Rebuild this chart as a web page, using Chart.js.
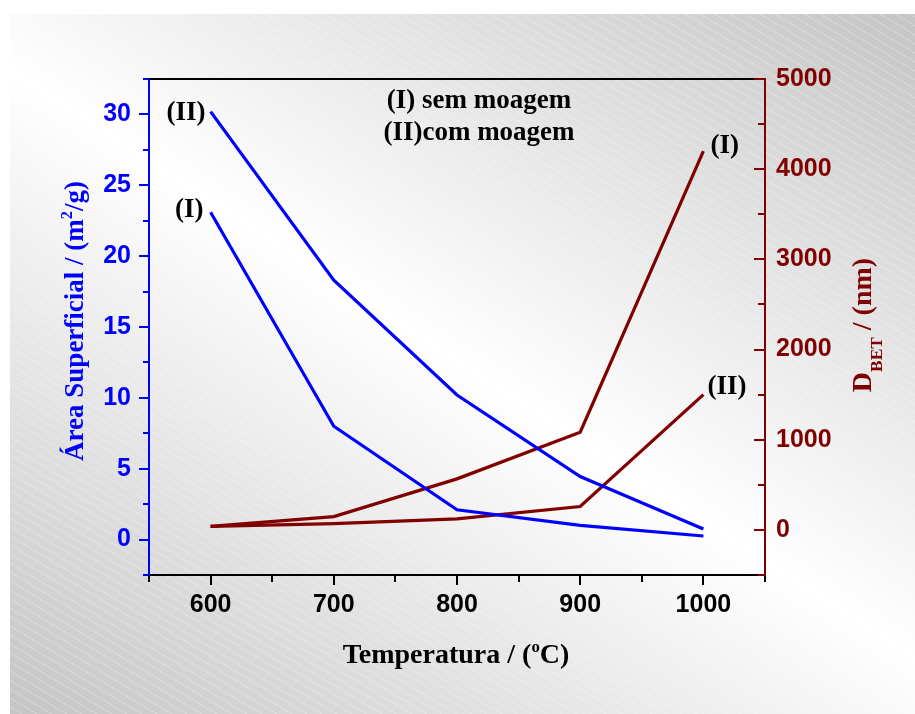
<!DOCTYPE html>
<html>
<head>
<meta charset="utf-8">
<script src="https://cdn.jsdelivr.net/npm/chart.js@4.4.1/dist/chart.umd.min.js"></script>
<style>
    html, body { margin: 0; padding: 0; background: #fff; }
    #wrap { width: 915px; height: 714px; }
</style>
</head>
<body>
<div id="wrap"><canvas id="areaGraph"></canvas></div>
<script>
// temperature of calcination (°C)
const temperatures = [600, 700, 800, 900, 1000];

// surface area (m2/g)
const areaSemMoagem = [23.1, 8.0, 2.1, 1.0, 0.25];
const areaComMoagem = [30.2, 18.3, 10.2, 4.45, 0.75];

// D_BET (nm)
const dbetSemMoagem = [40, 148, 566, 1084, 4200];
const dbetComMoagem = [40, 70, 122, 259, 1500];

const blue = '#0000ff';
const darkRed = '#800000';
const sansFont = "'Liberation Sans', Arial, sans-serif";
const serifFont = "'Liberation Serif', 'Times New Roman', serif";

function toPoints(values) {
    return temperatures.map((t, i) => ({ x: t, y: values[i] }));
}

// writes text pieces one after another, pieces may be raised or lowered
function drawRich(ctx, parts, x, y, size, color, align) {
    let total = 0;
    parts.forEach(p => {
        ctx.font = 'bold ' + (size * (p.s || 1)) + 'px ' + serifFont;
        p.w = ctx.measureText(p.t).width;
        total += p.w;
    });
    let cx = x;
    if (align === 'center') cx = x - total / 2;
    if (align === 'right') cx = x - total;
    ctx.fillStyle = color;
    ctx.textAlign = 'left';
    ctx.textBaseline = 'alphabetic';
    parts.forEach(p => {
        ctx.font = 'bold ' + (size * (p.s || 1)) + 'px ' + serifFont;
        ctx.fillText(p.t, cx, y + (p.dy || 0) * size);
        cx += p.w;
    });
}

const backgroundPlugin = {
    id: 'slideBackground',
    beforeDraw(chart) {
        const ctx = chart.ctx;
        const w = chart.width, h = chart.height;
        ctx.save();
        ctx.fillStyle = '#fff';
        ctx.fillRect(0, 0, w, h);

        const cx = 462, cy = 364, ux = 0.545, uy = -0.839, d = 545;
        const g = ctx.createLinearGradient(cx - ux * d, cy - uy * d, cx + ux * d, cy + uy * d);
        g.addColorStop(0, '#c4c4c4');
        g.addColorStop(0.5, '#ffffff');
        g.addColorStop(1, '#c4c4c4');
        ctx.fillStyle = g;
        ctx.fillRect(10, 14, w - 10, h - 14);

        // faint diagonal stripes
        ctx.beginPath();
        ctx.rect(10, 14, w - 10, h - 14);
        ctx.clip();
        ctx.strokeStyle = 'rgba(255,255,255,0.3)';
        ctx.lineWidth = 1;
        ctx.beginPath();
        for (let y0 = 14 - 0.6 * w; y0 < h; y0 += 9) {
            ctx.moveTo(10, y0);
            ctx.lineTo(w, y0 + 0.6 * (w - 10));
        }
        ctx.stroke();
        ctx.restore();
    }
};

// major and minor tick marks, drawn from the scales
function drawTicks(ctx, scale, majorEvery, majorLen, minorLen, side, color) {
    ctx.strokeStyle = color;
    ctx.lineWidth = 2;
    scale.ticks.forEach(t => {
        const v = t.value;
        const isMajor = Math.abs(v / majorEvery - Math.round(v / majorEvery)) < 1e-6;
        const len = isMajor ? majorLen : minorLen;
        const p = Math.round(scale.getPixelForValue(v));
        ctx.beginPath();
        if (side === 'bottom') {
            ctx.moveTo(p, scale.top);
            ctx.lineTo(p, scale.top + len);
        } else if (side === 'left') {
            ctx.moveTo(scale.right, p);
            ctx.lineTo(scale.right - len, p);
        } else {
            ctx.moveTo(scale.left, p);
            ctx.lineTo(scale.left - len, p);
        }
        ctx.stroke();
    });
}

const decorPlugin = {
    id: 'decor',
    afterDraw(chart) {
        const ctx = chart.ctx;
        const area = chart.chartArea;
        const xs = chart.scales.x, ys = chart.scales.y, ys1 = chart.scales.y1;
        ctx.save();

        // top frame
        ctx.strokeStyle = '#000';
        ctx.lineWidth = 2;
        ctx.beginPath();
        ctx.moveTo(area.left, area.top);
        ctx.lineTo(area.right, area.top);
        ctx.stroke();

        drawTicks(ctx, xs, 100, 10, 7, 'bottom', '#000');
        drawTicks(ctx, ys, 5, 10, 6, 'left', blue);
        drawTicks(ctx, ys1, 1000, 11, 7, 'right', darkRed);

        // series labels
        const px = v => xs.getPixelForValue(v);
        drawRich(ctx, [{ t: '(II)' }], px(600) - 5, ys.getPixelForValue(areaComMoagem[0]) + 8, 27, '#000', 'right');
        drawRich(ctx, [{ t: '(I)' }], px(600) - 7, ys.getPixelForValue(areaSemMoagem[0]) + 5, 27, '#000', 'right');
        drawRich(ctx, [{ t: '(I)' }], px(1000) + 7, ys1.getPixelForValue(dbetSemMoagem[4]) + 2, 27, '#000', 'left');
        drawRich(ctx, [{ t: '(II)' }], px(1000) + 4, ys1.getPixelForValue(dbetComMoagem[4]) - 1, 27, '#000', 'left');

        // legend text
        drawRich(ctx, [{ t: '(I) sem moagem' }], 479, 108, 27, '#000', 'center');
        drawRich(ctx, [{ t: '(II)com moagem' }], 479, 140, 27, '#000', 'center');

        // x title
        drawRich(ctx, [
            { t: 'Temperatura / (' },
            { t: 'o', s: 0.6, dy: -0.4 },
            { t: 'C)' }
        ], 456, 663, 28, '#000', 'center');

        // left title
        ctx.save();
        ctx.translate(83, 321);
        ctx.rotate(-Math.PI / 2);
        drawRich(ctx, [
            { t: 'Área Superficial / (m' },
            { t: '2', s: 0.6, dy: -0.4 },
            { t: '/g)' }
        ], 0, 0, 27, blue, 'center');
        ctx.restore();

        // right title
        ctx.save();
        ctx.translate(871, 325);
        ctx.rotate(-Math.PI / 2);
        drawRich(ctx, [
            { t: 'D' },
            { t: 'BET', s: 0.62, dy: 0.4 },
            { t: ' / (nm)' }
        ], 0, 0, 28, darkRed, 'center');
        ctx.restore();

        ctx.restore();
    }
};

function lineSet(values, color, axis) {
    return {
        data: toPoints(values),
        borderColor: color,
        borderWidth: 3.2,
        pointRadius: 0,
        fill: false,
        tension: 0,
        yAxisID: axis
    };
}

new Chart(document.getElementById('areaGraph'), {
    type: 'line',
    data: {
        datasets: [
            lineSet(areaSemMoagem, blue, 'y'),
            lineSet(areaComMoagem, blue, 'y'),
            lineSet(dbetSemMoagem, darkRed, 'y1'),
            lineSet(dbetComMoagem, darkRed, 'y1')
        ]
    },
    options: {
        responsive: true,
        maintainAspectRatio: false,
        animation: false,
        layout: {
            padding: { top: 79, left: 0, right: 0, bottom: 0 }
        },
        scales: {
            x: {
                type: 'linear',
                min: 550,
                max: 1050,
                ticks: {
                    stepSize: 50,
                    color: '#000',
                    padding: 5,
                    autoSkip: false,
                    maxRotation: 0,
                    minRotation: 0,
                    font: { family: sansFont, size: 25, weight: 'bold' },
                    callback: v => (v % 100 === 0 ? v : '')
                },
                grid: {
                    display: true,
                    drawOnChartArea: false,
                    tickLength: 10,
                    tickColor: 'rgba(0,0,0,0)'
                },
                border: { display: true, color: '#000', width: 2 },
                afterFit: scale => { scale.height = 139; }
            },
            y: {
                position: 'left',
                min: -2.5,
                max: 32.5,
                ticks: {
                    stepSize: 2.5,
                    color: blue,
                    padding: 8,
                    autoSkip: false,
                    font: { family: sansFont, size: 25, weight: 'bold' },
                    callback: v => (v % 5 === 0 ? v : '')
                },
                grid: {
                    display: true,
                    drawOnChartArea: false,
                    tickLength: 10,
                    tickColor: 'rgba(0,0,0,0)'
                },
                border: { display: true, color: blue, width: 2 },
                afterFit: scale => { scale.width = 149; }
            },
            y1: {
                position: 'right',
                min: -500,
                max: 5000,
                ticks: {
                    stepSize: 500,
                    color: darkRed,
                    padding: 11,
                    autoSkip: false,
                    font: { family: sansFont, size: 25, weight: 'bold' },
                    callback: v => (v % 1000 === 0 ? v : '')
                },
                grid: {
                    display: true,
                    drawOnChartArea: false,
                    drawTicks: false,
                    tickColor: 'rgba(0,0,0,0)'
                },
                border: { display: true, color: darkRed, width: 2 },
                afterFit: scale => { scale.width = 150; }
            }
        },
        plugins: {
            legend: { display: false },
            tooltip: { enabled: false }
        }
    },
    plugins: [backgroundPlugin, decorPlugin]
});
</script>
</body>
</html>
